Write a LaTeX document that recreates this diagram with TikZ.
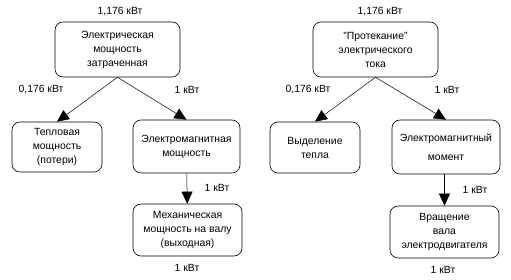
\documentclass[tikz,border=0pt]{standalone}
\usepackage{fontspec}
\setmainfont{Liberation Sans}
\usetikzlibrary{arrows.meta}

\begin{document}
\begin{tikzpicture}[x=1pt, y=-1pt, every node/.style={font=\fontsize{10.4}{14}\selectfont, align=center}]
\tikzset{
  stage/.style={draw, rounded corners=8pt, line width=0.6pt, inner sep=1pt},
  value/.style={inner sep=0pt},
  flow/.style={-{Triangle[length=12pt, width=11pt]}, line width=0.5pt}
}
  \useasboundingbox (0,0) rectangle (511,280);
  % left: power balance
  \node[stage, minimum width=125pt, minimum height=55pt] (elpow) at (117.5,49.5)
    {Электрическая\\мощность\\затраченная};
  \node[stage, minimum width=90pt, minimum height=50pt] (heatpow) at (57,147)
    {Тепловая\\мощность\\(потери)};
  \node[stage, minimum width=107pt, minimum height=53pt] (empow) at (186.5,146.5)
    {Электромагнитная\\мощность};
  \node[stage, minimum width=109pt, minimum height=52pt] (mechpow) at (187.5,230)
    {Механическая\\мощность на валу\\(выходная)};
  \draw[flow] (elpow.south) -- (heatpow.north);
  \draw[flow] (elpow.south) -- (empow.north);
  \draw[flow] (empow) -- (mechpow);
  \node[value] (elin) at (120,12) {1,176 кВт};
  \node[value] (heatval) at (41,90) {0,176 кВт};
  \node[value] (emval) at (187,90) {1 кВт};
  \node[value] (mechval) at (217,188) {1 кВт};
  \node[value] (mechout) at (187,268) {1 кВт};
  % right: physical processes
  \node[stage, minimum width=125pt, minimum height=55pt] (current) at (375.5,49.5)
    {"Протекание"\\электрического\\тока};
  \node[stage, minimum width=90pt, minimum height=51pt] (heatrel) at (315,147.5)
    {Выделение\\тепла};
  \node[stage, minimum width=108pt, minimum height=54pt] (emtorque) at (446,147)
    {Электромагнитный\\[5pt]момент};
  \node[stage, minimum width=109pt, minimum height=52pt] (shaft) at (444.5,232)
    {Вращение\\вала\\электродвигателя};
  \draw[flow] (current.south) -- (heatrel.north);
  \draw[flow] (current.south) -- (emtorque.north);
  \draw[flow] (emtorque.south -| shaft.north) -- (shaft.north);
  \node[value] (curin) at (380,12) {1,176 кВт};
  \node[value] (heatrelval) at (308,90) {0,176 кВт};
  \node[value] (torqueval) at (447,90) {1 кВт};
  \node[value] (shaftval) at (475,190) {1 кВт};
  \node[value] (shaftout) at (443,270) {1 кВт};
\end{tikzpicture}
\end{document}
